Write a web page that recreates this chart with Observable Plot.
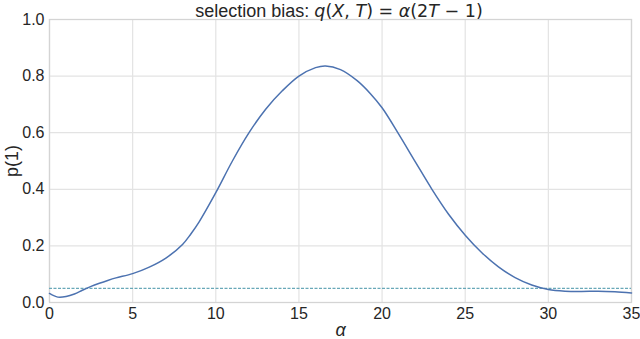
<!DOCTYPE html>
<html><head><meta charset="utf-8">
<script src="https://cdn.jsdelivr.net/npm/d3@7"></script>
<script src="https://cdn.jsdelivr.net/npm/@observablehq/plot@0.6"></script>
<style>body{margin:0;background:#fff;} svg{display:block}</style>
</head><body><div id="chart"></div>
<script>
const alpha = [0, 0.5, 1, 1.5, 2, 2.5, 3, 3.5, 4, 5, 6, 7, 8, 8.5, 9, 10, 11, 12, 13, 14, 15, 16, 16.6, 17.5, 18.5, 19.3, 20, 21, 22, 23, 24, 25, 26, 27, 28, 29, 30, 31, 32, 33, 34, 35];
const p1 = [0.032, 0.019, 0.021, 0.030, 0.044, 0.057, 0.068, 0.078, 0.087, 0.102, 0.125, 0.157, 0.205, 0.242, 0.285, 0.388, 0.500, 0.600, 0.683, 0.748, 0.800, 0.830, 0.836, 0.823, 0.784, 0.738, 0.688, 0.595, 0.497, 0.400, 0.312, 0.238, 0.176, 0.126, 0.088, 0.062, 0.046, 0.040, 0.039, 0.040, 0.038, 0.034];
const nullLevel = [0.05];
const xTicks = [0, 5, 10, 15, 20, 25, 30, 35];
const yTicks = [0, 0.2, 0.4, 0.6, 0.8, 1.0];
const xLabel = "α";
const yLabel = "p(1)";

const data = alpha.map((a, i) => ({a, p: p1[i]}));
const font = "'Liberation Sans', Arial, sans-serif";

const chart = Plot.plot({
  width: 640, height: 339,
  marginLeft: 49, marginRight: 9, marginTop: 19, marginBottom: 37,
  style: {fontFamily: font, fontSize: "16px", color: "#262626", background: "#fff", overflow: "visible"},
  x: {domain: [0, 35]},
  y: {domain: [0, 1]},
  marks: [
    Plot.gridX(xTicks, {stroke: "#e3e3e3", strokeOpacity: 1, strokeWidth: 1.2}),
    Plot.gridY(yTicks, {stroke: "#e3e3e3", strokeOpacity: 1, strokeWidth: 1.2}),
    Plot.frame({stroke: "#d4d4d4", strokeWidth: 1.3}),
    Plot.ruleY(nullLevel, {stroke: "#68a8b8", strokeDasharray: "3,1.5", strokeWidth: 1.2}),
    Plot.line(data, {x: "a", y: "p", stroke: "#4c72b0", strokeWidth: 1.5, curve: "catmull-rom"}),
    Plot.axisX(xTicks, {tickSize: 0, tickPadding: 5, tickFormat: d => String(d), label: xLabel, labelAnchor: "center", labelArrow: "none", labelOffset: 33, fontSize: 16}),
    Plot.axisY(yTicks, {tickSize: 0, tickPadding: 5, tickFormat: d3.format(".1f"), label: yLabel, labelAnchor: "center", labelArrow: "none", labelOffset: 44, fontSize: 16})
  ]
});
document.getElementById("chart").appendChild(chart);

const svg = d3.select(chart);
svg.selectAll("[aria-label='x-axis label'] text").style("font-style", "italic").style("font-size", "18px");
svg.selectAll("[aria-label='y-axis label'] text").style("font-size", "18px");

const t = svg.append("text")
  .attr("x", 339).attr("y", 17)
  .attr("text-anchor", "middle")
  .attr("fill", "#262626")
  .style("font-family", font)
  .style("font-size", "18px");
const parts = [
  ["selection bias: ", false],
  ["q", true], ["(", false], ["X", true], [", ", false], ["T", true], [") = ", false],
  ["α", true], ["(2", false], ["T", true], [" − 1)", false]
];
for (const [s, it] of parts) {
  const sp = t.append("tspan").text(s);
  if (it) sp.style("font-style", "italic");
  if (s !== "selection bias: ") sp.style("font-family", "'DejaVu Sans', sans-serif").style("font-size", "17.5px");
}
</script>
</body></html>
